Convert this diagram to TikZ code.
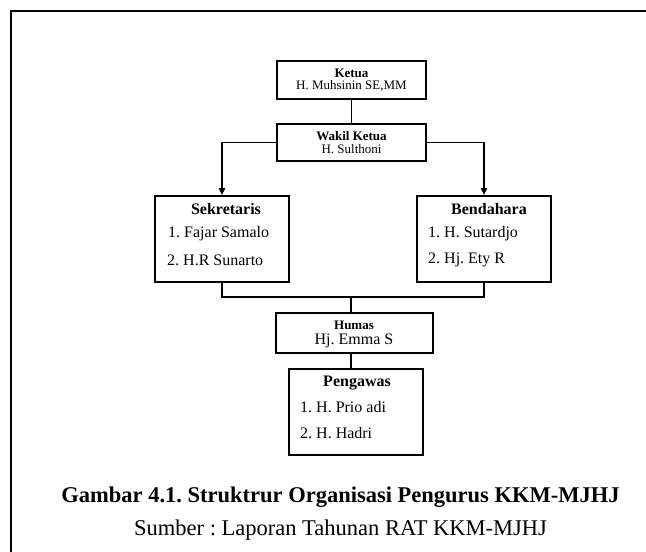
\documentclass[tikz,border=0pt]{standalone}
\usepackage{fontspec}
\setmainfont{Liberation Serif}
\usepackage{tikz}
\usetikzlibrary{arrows.meta,positioning,calc}
\frenchspacing

\begin{document}
\begin{tikzpicture}[x=1pt,y=-1pt,
		box/.style={draw=black,line width=1.6pt,inner sep=0pt,fill=white},
		ttl/.style={font=\fontsize{13}{15}\selectfont\bfseries,inner sep=0pt},
		nm/.style={font=\fontsize{13}{15}\selectfont,inner sep=0pt},
		hdr/.style={font=\fontsize{16}{18}\selectfont\bfseries,inner sep=0pt},
		itm/.style={font=\fontsize{16}{18}\selectfont,inner sep=0pt,anchor=west},
		line/.style={line width=1.6pt,black},
		arr/.style={line/.try,-{Triangle[length=7pt,width=6pt]}}
		]
		\useasboundingbox (0,0) rectangle (646,552);
		% frame
		\draw[line width=2.6pt] (11,552) -- (11,11) -- (646,11);
		% boxes
		\node[box,minimum width=149,minimum height=38] (ketua) at (351.5,80) {};
		\node[box,minimum width=149,minimum height=37] (wakil) at (351.5,142.5) {};
		\node[box,minimum width=134,minimum height=86] (sek) at (222,239) {};
		\node[box,minimum width=134,minimum height=86] (bend) at (484,239) {};
		\node[box,minimum width=157,minimum height=40] (humas) at (354.5,333) {};
		\node[box,minimum width=134,minimum height=86] (peng) at (356,412) {};
		% texts
		\node[ttl] (tketua) at (351.5,73) {Ketua};
		\node[nm] (nketua) at (351.5,86) {H. Muhsinin SE,MM};
		\node[ttl] (twakil) at (351.5,136) {Wakil Ketua};
		\node[nm] (nwakil) at (351.5,149) {H. Sulthoni};
		\node[hdr] (tsek) at (226,209) {Sekretaris};
		\node[itm] (s1) at (168,234) {1. Fajar Samalo};
		\node[itm] (s2) at (167,260) {2. H.R Sunarto};
		\node[hdr] (tbend) at (489,209) {Bendahara};
		\node[itm] (b1) at (428,234) {1. H. Sutardjo};
		\node[itm] (b2) at (428,260) {2. Hj. Ety R};
		\node[ttl] (thumas) at (354,325) {Humas};
		\node[nm,font=\fontsize{16}{18}\selectfont] (nhumas) at (354,341) {Hj. Emma S};
		\node[hdr] (tpeng) at (357,383) {Pengawas};
		\node[itm] (p1) at (300,407) {1. H. Prio adi};
		\node[itm] (p2) at (300,433) {2. H. Hadri};
		% connectors
		\coordinate (join) at (351,297);
		\draw[line] (ketua.south) -- (wakil.north);
		\draw[arr] (wakil.west) -| (sek.north);
		\draw[arr] (wakil.east) -| (bend.north);
		\draw[line] (sek.south) |- (join) -| (bend.south);
		\draw[line] (join) -- (join |- humas.north);
		\draw[line] (humas.south -| join) -- (peng.north -| join);
		% caption
		\node[font=\fontsize{22.5}{25}\selectfont\bfseries,inner sep=0pt] (cap) at (340.5,497) {Gambar 4.1. Struktrur Organisasi Pengurus KKM-MJHJ};
		\node[font=\fontsize{22.5}{25}\selectfont,inner sep=0pt] (src) at (340.5,530) {Sumber : Laporan Tahunan RAT KKM-MJHJ};
\end{tikzpicture}
\end{document}
